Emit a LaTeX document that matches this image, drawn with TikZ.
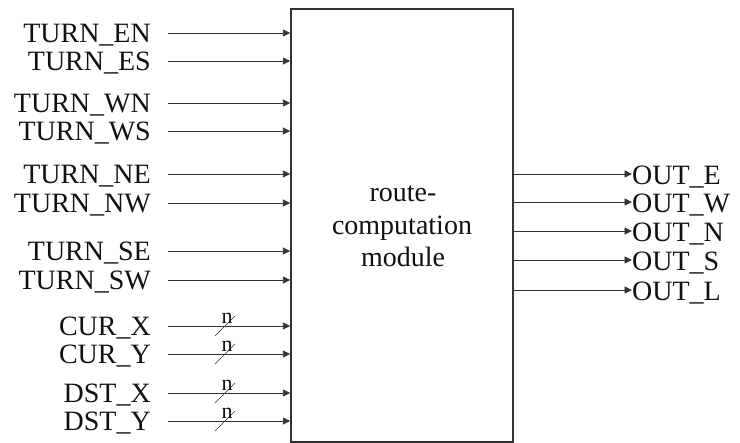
\documentclass[tikz,border=0pt]{standalone}
\usepackage{fontspec}
\setmainfont{Liberation Serif}
\usetikzlibrary{arrows.meta}
\definecolor{ink}{HTML}{111111}
\definecolor{wire}{HTML}{333333}
\tikzset{
  sig/.style={draw=wire, line width=0.9pt, -{Triangle[length=7.5pt,width=7pt]}},
  lbl/.style={text=ink, inner sep=0pt, font=\fontsize{28}{30}\selectfont},
  buslbl/.style={text=ink, inner sep=0pt, font=\fontsize{22}{22}\selectfont},
  busmark/.style={draw=wire, line width=0.7pt},
  modbox/.style={draw=wire, line width=1.4pt, minimum width=222pt, minimum height=433pt, inner sep=0pt}
}
\begin{document}
\begin{tikzpicture}[x=1pt, y=-1pt]
\useasboundingbox (0,0) rectangle (740,443);

% module box
\node[modbox] (box) at (402,225.5) {};
\node[lbl, anchor=base] (t1) at (403,202) {route-};
\node[lbl, anchor=base] (t2) at (402,235) {computation};
\node[lbl, anchor=base] (t3) at (403,267) {module};

% single-bit inputs
\foreach \name/\txt/\y in {en/TURN\_EN/33, es/TURN\_ES/61, wn/TURN\_WN/103, ws/TURN\_WS/131,
                           ne/TURN\_NE/174, nw/TURN\_NW/203, se/TURN\_SE/251, sw/TURN\_SW/280}{
  \node[lbl, anchor=base east] (l\name) at (151,\y+10) {\txt};
  \coordinate (s\name) at (168,\y);
  \draw[sig] (s\name) -- (s\name -| box.west);
}

% n-bit inputs
\foreach \name/\txt/\y in {cx/CUR\_X/326, cy/CUR\_Y/354, dx/DST\_X/393, dy/DST\_Y/421}{
  \node[lbl, anchor=base east] (l\name) at (151,\y+10) {\txt};
  \coordinate (s\name) at (168,\y);
  \draw[sig] (s\name) -- (s\name -| box.west);
  \coordinate (m\name) at (225,\y);
  \draw[busmark] ([shift={(-10,10)}]m\name) -- ([shift={(10,-10)}]m\name);
  \node[buslbl, anchor=base] (n\name) at (227,\y-2) {n};
}

% outputs
\foreach \name/\txt/\y in {oe/OUT\_E/174, ow/OUT\_W/202, on/OUT\_N/231, os/OUT\_S/260, ol/OUT\_L/290}{
  \coordinate (s\name) at (513,\y);
  \node[lbl, anchor=base west] (l\name) at (632,\y+10.5) {\txt};
  \draw[sig] (s\name) -- (l\name.west |- s\name);
}
\end{tikzpicture}
\end{document}
